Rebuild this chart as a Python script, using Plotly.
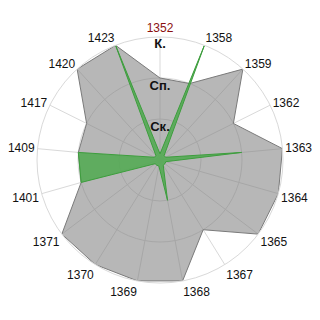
import plotly.graph_objects as go

categories = ["1352", "1358", "1359", "1362", "1363", "1364", "1365", "1367", "1368",
              "1369", "1370", "1371", "1401", "1409", "1417", "1420", "1423"]
gray_values = [2, 2, 3, 2, 3, 3, 3, 2, 3, 3, 3, 3, 2, 2, 2, 3, 3]
green_values = [0.15, 3, 0.15, 0.15, 2, 0.15, 0.15, 0.15, 1, 0.15, 0.15, 0.15, 2, 2, 0.15, 0.15, 3]
level_labels = ["Ск.", "Сп.", "К."]
level_positions = [0.78, 1.78, 2.8]

ticktext = ["<span style='color:#8b1010'>%s</span>" % c if c == "1352" else c for c in categories]

fig = go.Figure()
fig.add_trace(go.Scatterpolar(
    r=gray_values + gray_values[:1], theta=categories + categories[:1],
    mode="lines", fill="toself",
    fillcolor="rgba(128,128,128,0.57)",
    line=dict(color="#7a7a7a", width=1),
    hoverinfo="skip", showlegend=False))
fig.add_trace(go.Scatterpolar(
    r=green_values + green_values[:1], theta=categories + categories[:1],
    mode="lines", fill="toself",
    fillcolor="rgba(80,170,80,0.85)",
    line=dict(color="#3d9e3d", width=1),
    hoverinfo="skip", showlegend=False))
fig.add_trace(go.Scatterpolar(
    r=level_positions, theta=[categories[0]] * 3,
    mode="text", text=["<b>%s</b>" % t for t in level_labels],
    textfont=dict(family="Liberation Sans, Arial", size=13, color="#111111"),
    textposition="middle center",
    hoverinfo="skip", showlegend=False, cliponaxis=False))

fig.update_layout(
    width=320, height=320,
    margin=dict(l=37, r=37, t=37, b=37),
    paper_bgcolor="white", plot_bgcolor="white",
    font=dict(family="Liberation Sans, Arial", size=12, color="#111111"),
    polar=dict(
        domain=dict(x=[0, 1], y=[0, 1]),
        bgcolor="white",
        radialaxis=dict(range=[0, 3], tickvals=[1, 2, 3], showticklabels=False,
                        ticks="", showline=False, gridcolor="#d9d9d9", gridwidth=1),
        angularaxis=dict(type="category", categoryarray=categories, direction="clockwise",
                         rotation=90, tickmode="array", tickvals=categories, ticktext=ticktext,
                         ticks="", showline=True, linecolor="#d9d9d9", linewidth=1,
                         gridcolor="#d9d9d9", gridwidth=1,
                         tickfont=dict(family="Liberation Sans, Arial", size=12, color="#111111")),
    ),
)
fig.write_html("out.html")
